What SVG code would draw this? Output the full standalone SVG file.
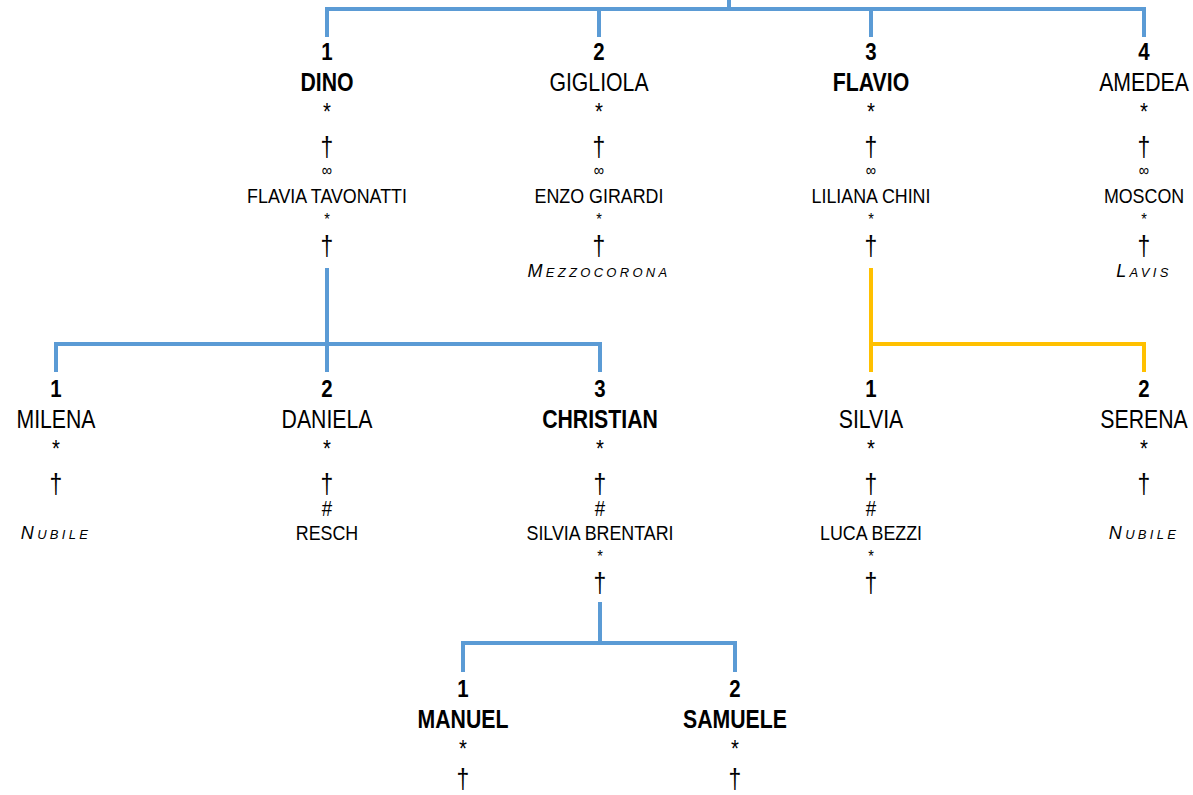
<svg xmlns="http://www.w3.org/2000/svg" width="1193" height="795" viewBox="0 0 1193 795">
<style>
text{font-family:"Liberation Sans",Arial,sans-serif;fill:#000;text-anchor:middle}
.c{transform:scale(0.85,1)}
.num{font-size:24px;font-weight:bold}
.nm{font-size:25px}
.b{font-weight:bold}
.st{font-size:24px}
.dg{font-size:27px}
.inf{font-size:17px}
.sp{font-size:21px}
.hs{font-size:22px}
.sst{font-size:17px}
.pl{font-size:18px;font-style:italic;letter-spacing:3.3px}
.sc{font-size:13px}
.blue{stroke:#5B9BD5;stroke-width:4;fill:none}
.yel{stroke:#FFC000;stroke-width:4;fill:none}
</style>
<g id="connectors">
<path class="blue" d="M729 0V9M327 37V9H1144V37M599 9V37M871 9V37"/>
<path class="blue" d="M327 268V344M56 372V344H600V372M327 344V372"/>
<path class="yel" d="M871 268V344M871 372V344H1144V372"/>
<path class="blue" d="M600 602V643M463 672V643H735V672"/>
</g>
<g id="dino" transform="translate(327,0)"><g class="c">
<text class="num" y="60">1</text><text class="nm b" y="91">DINO</text><text class="st" y="120">*</text><text class="dg" y="156">†</text><text class="inf" y="176">∞</text><text class="sp" y="203">FLAVIA TAVONATTI</text><text class="sst" y="225">*</text><text class="dg" y="255">†</text>
</g></g>
<g id="gigliola" transform="translate(599,0)"><g class="c">
<text class="num" y="60">2</text><text class="nm" y="91">GIGLIOLA</text><text class="st" y="120">*</text><text class="dg" y="156">†</text><text class="inf" y="176">∞</text><text class="sp" y="203">ENZO GIRARDI</text><text class="sst" y="225">*</text><text class="dg" y="255">†</text></g><text class="pl" y="277">M<tspan class="sc">EZZOCORONA</tspan></text>
</g>
<g id="flavio" transform="translate(871,0)"><g class="c">
<text class="num" y="60">3</text><text class="nm b" y="91">FLAVIO</text><text class="st" y="120">*</text><text class="dg" y="156">†</text><text class="inf" y="176">∞</text><text class="sp" y="203">LILIANA CHINI</text><text class="sst" y="225">*</text><text class="dg" y="255">†</text>
</g></g>
<g id="amedea" transform="translate(1144,0)"><g class="c">
<text class="num" y="60">4</text><text class="nm" y="91">AMEDEA</text><text class="st" y="120">*</text><text class="dg" y="156">†</text><text class="inf" y="176">∞</text><text class="sp" y="203">MOSCON</text><text class="sst" y="225">*</text><text class="dg" y="255">†</text></g><text class="pl" y="277">L<tspan class="sc">AVIS</tspan></text>
</g>
<g id="milena" transform="translate(56,337)"><g class="c">
<text class="num" y="60">1</text><text class="nm" y="91">MILENA</text><text class="st" y="120">*</text><text class="dg" y="156">†</text></g><text class="pl" y="202">N<tspan class="sc">UBILE</tspan></text>
</g>
<g id="daniela" transform="translate(327,337)"><g class="c">
<text class="num" y="60">2</text><text class="nm" y="91">DANIELA</text><text class="st" y="120">*</text><text class="dg" y="156">†</text><text class="hs" y="179">#</text><text class="sp" y="203">RESCH</text>
</g></g>
<g id="christian" transform="translate(600,337)"><g class="c">
<text class="num" y="60">3</text><text class="nm b" y="91">CHRISTIAN</text><text class="st" y="120">*</text><text class="dg" y="156">†</text><text class="hs" y="179">#</text><text class="sp" y="203">SILVIA BRENTARI</text><text class="sst" y="225">*</text><text class="dg" y="255">†</text>
</g></g>
<g id="silvia" transform="translate(871,337)"><g class="c">
<text class="num" y="60">1</text><text class="nm" y="91">SILVIA</text><text class="st" y="120">*</text><text class="dg" y="156">†</text><text class="hs" y="179">#</text><text class="sp" y="203">LUCA BEZZI</text><text class="sst" y="225">*</text><text class="dg" y="255">†</text>
</g></g>
<g id="serena" transform="translate(1144,337)"><g class="c">
<text class="num" y="60">2</text><text class="nm" y="91">SERENA</text><text class="st" y="120">*</text><text class="dg" y="156">†</text></g><text class="pl" y="202">N<tspan class="sc">UBILE</tspan></text>
</g>
<g id="manuel" transform="translate(463,637)"><g class="c">
<text class="num" y="60">1</text><text class="nm b" y="91">MANUEL</text><text class="st" y="120">*</text><text class="dg" y="151">†</text>
</g></g>
<g id="samuele" transform="translate(735,637)"><g class="c">
<text class="num" y="60">2</text><text class="nm b" y="91">SAMUELE</text><text class="st" y="120">*</text><text class="dg" y="151">†</text>
</g></g>
</svg>
